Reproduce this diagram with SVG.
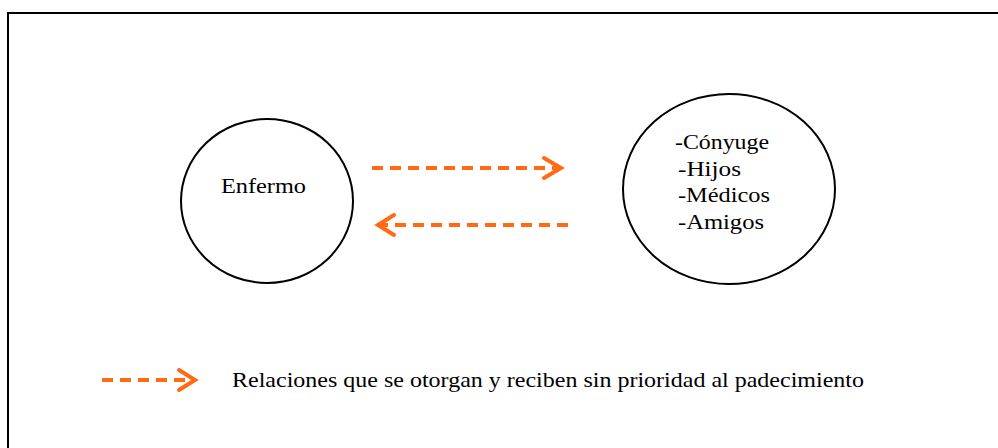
<svg xmlns="http://www.w3.org/2000/svg" width="998" height="448" viewBox="0 0 998 448">
<style>
.frame{fill:none;stroke:#000;stroke-width:2}
.node{fill:#fff;stroke:#000;stroke-width:2}
.t{font-family:"Liberation Serif","Times New Roman",serif;font-size:21px;fill:#000}
.lt{font-family:"Liberation Serif","Times New Roman",serif;font-size:21px;fill:#000}
.dash{fill:none;stroke:#FF6A13;stroke-width:4;stroke-dasharray:11 7}
.head{fill:none;stroke:#FF6A13;stroke-width:4;stroke-linecap:round;stroke-linejoin:miter}
</style>
<rect x="0" y="0" width="998" height="448" fill="#fff"/>
<rect class="frame" x="8" y="13" width="1000" height="450"/>
<g id="enfermo">
<ellipse class="node" cx="267" cy="201" rx="86" ry="82"/>
<text class="t" x="221" y="193" textLength="85" lengthAdjust="spacingAndGlyphs">Enfermo</text>
</g>
<g id="relaciones">
<ellipse class="node" cx="729" cy="189" rx="106" ry="95"/>
<text class="t" x="675" y="149" textLength="94" lengthAdjust="spacingAndGlyphs">-Cónyuge</text>
<text class="t" x="678" y="176" textLength="63" lengthAdjust="spacingAndGlyphs">-Hijos</text>
<text class="t" x="678" y="202" textLength="92" lengthAdjust="spacingAndGlyphs">-Médicos</text>
<text class="t" x="678" y="229" textLength="86" lengthAdjust="spacingAndGlyphs">-Amigos</text>
</g>
<g id="connectors">
<line class="dash" x1="372" y1="168" x2="558" y2="168"/>
<polyline class="head" points="544,158 561,168 544,178"/>
<line class="dash" x1="568" y1="225" x2="381" y2="225"/>
<polyline class="head" points="394,215 378,225 394,235"/>
</g>
<g id="legend">
<line class="dash" x1="102" y1="380" x2="192" y2="380"/>
<polyline class="head" points="179,370 195,380 179,390"/>
<text class="lt" x="232" y="387" textLength="632" lengthAdjust="spacingAndGlyphs">Relaciones que se otorgan y reciben sin prioridad al padecimiento</text>
</g>
</svg>
